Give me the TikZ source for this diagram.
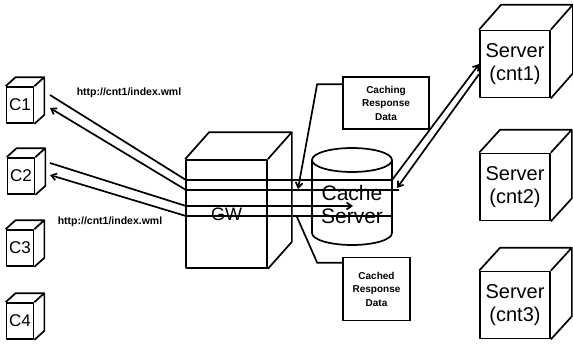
\documentclass[tikz,border=0pt]{standalone}
\usepackage{fontspec}
\setmainfont{Liberation Sans}
\usetikzlibrary{arrows.meta,calc}
\newcommand\cubeback[3]{%
  \draw[line join=round] (#1.north west) -- ++(#2,#3) -- ($(#1.north east)+(#2,#3)$) -- ($(#1.south east)+(#2,#3)$) -- (#1.south east)
    (#1.north east) -- ++(#2,#3);}
\begin{document}
\begin{tikzpicture}[x=1pt,y=-1pt,line width=1.7pt,
  face/.style={draw,fill=white,inner sep=0pt,line join=round},
  client/.style={face,minimum width=27pt,minimum height=36pt,font=\fontsize{17}{17}\selectfont},
  srv/.style={face,minimum width=70pt,minimum height=67pt,align=center,font=\fontsize{20}{23}\selectfont},
  gwbox/.style={face,minimum width=81pt,minimum height=108pt,font=\fontsize{18}{18}\selectfont},
  note/.style={draw,fill=white,inner sep=0pt,align=center,font=\bfseries\fontsize{10}{13.5}\selectfont},
  url/.style={font=\bfseries\fontsize{10.5}{10.5}\selectfont,inner sep=0pt},
  cachetxt/.style={inner sep=0pt,font=\fontsize{21}{21}\selectfont},
  tip/.style={-{Straight Barb[length=5pt,width=7pt]}}]
\fill[white] (0,0) rectangle (573,348);
\useasboundingbox (0,0) rectangle (573,348);

% clients
\node[client] (c1) at (20,105) {C1};
\cubeback{c1}{10}{-9}
\node[client] (c2) at (21,176) {C2};
\cubeback{c2}{10}{-9}
\node[client] (c3) at (20,248) {C3};
\cubeback{c3}{10}{-9}
\node[client] (c4) at (20,321) {C4};
\cubeback{c4}{10}{-9}

% servers
\node[srv] (s1) at (515,64) {Server\\(cnt1)};
\cubeback{s1}{22}{-25}
\node[srv] (s2) at (515,187) {Server\\(cnt2)};
\cubeback{s2}{21}{-23}
\node[srv] (s3) at (515,305) {Server\\(cnt3)};
\cubeback{s3}{21}{-23}

% gateway
\node[gwbox] (gw) at (226.5,214) {GW};
\cubeback{gw}{24}{-27}

% cache server cylinder
\draw (312,160) -- (312,233) arc[start angle=180,end angle=360,x radius=40pt,y radius=12pt] -- (392,160);
\draw (352,160) ellipse [x radius=40pt,y radius=12pt];
\node[cachetxt] (cachet) at (352,193) {Cache};
\node[cachetxt] (cachest) at (352,216) {Server};

% notes
\node[note,minimum width=86pt,minimum height=52pt] (caching) at (386,103) {Caching\\Response\\Data};
\node[note,minimum width=67pt,minimum height=63pt] (cached) at (376.5,289) {Cached\\Response\\Data};

% url labels
\node[url] (u1) at (129,93) {http://cnt1/index.wml};
\node[url] (u2) at (110,222) {http://cnt1/index.wml};

% waypoints
\coordinate (c1a) at (50,95);
\coordinate (c1b) at (50,108);
\coordinate (c2a) at (50,163);
\coordinate (c2b) at (50,175);
\coordinate (g1) at (186,180);
\coordinate (g2) at (186,190);
\coordinate (g3) at (186,206);
\coordinate (g4) at (186,216);
\coordinate (k1) at (392,180);
\coordinate (k2) at (399,190);
\coordinate (k3) at (353,206);
\coordinate (k4) at (392,216);
\coordinate (kb) at (397,188);
\coordinate (t1) at (298,189);
\coordinate (t2) at (297,217);

% flows
\draw[tip] (c1a) -- (g1) -- (k1) -- (s1.west);
\draw[tip] ($(s1.west)+(0,10)$) -- (kb);
\draw[tip] (k2) -- (g2) -- (c1b);
\draw[tip] (c2a) -- (g3) -- (k3);
\draw[tip] (k4) -- (g4) -- (c2b);

% note leaders
\draw[tip] ($(caching.north west)+(0,8)$) -- ++(-25,0) -- (t1);
\draw ($(cached.north west)+(0,6)$) -- ++(-25,0) -- (t2);
\end{tikzpicture}
\end{document}
